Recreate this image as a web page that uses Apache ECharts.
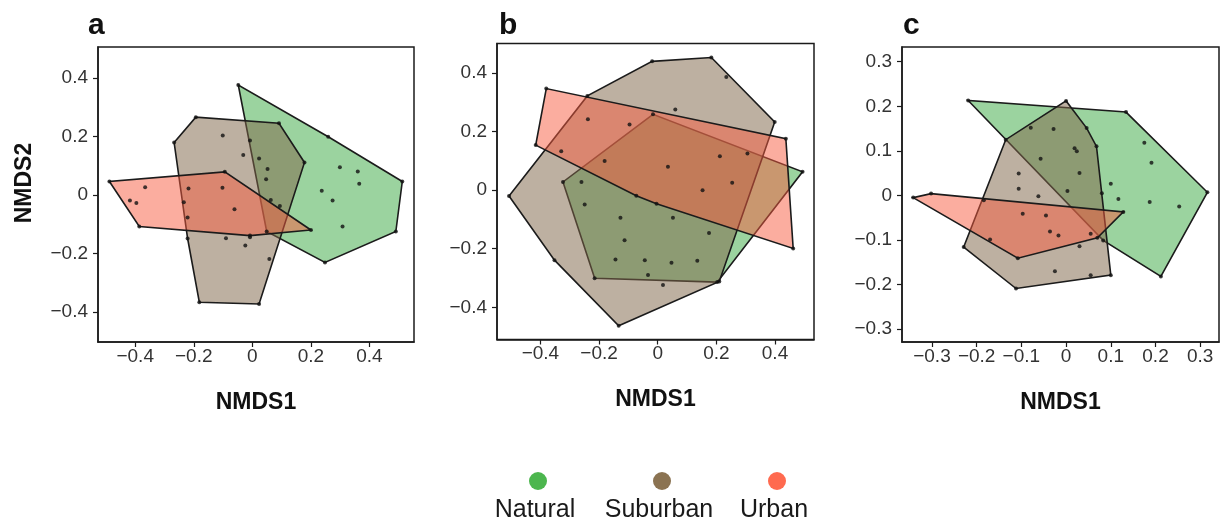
<!DOCTYPE html>
<html>
<head>
<meta charset="utf-8">
<title>NMDS ordination</title>
<style>
  html, body { margin: 0; padding: 0; background: #fff; }
  #chart { width: 1220px; height: 527px; }
</style>
</head>
<body>
<div id="chart"></div>
<script src="https://cdn.jsdelivr.net/npm/echarts@6.0.0/dist/echarts.min.js"></script>
<script>
var groups = ["Natural", "Suburban", "Urban"];
var panelLetters = ["a", "b", "c"];

var ticksAB = [-0.4, -0.2, 0, 0.2, 0.4];
var ticksC = [-0.3, -0.2, -0.1, 0, 0.1, 0.2, 0.3];

var xRangeA = [-0.527, 0.552], yRangeA = [-0.503, 0.506];
var xRangeB = [-0.548, 0.533], yRangeB = [-0.510, 0.501];
var xRangeC = [-0.367, 0.342], yRangeC = [-0.329, 0.333];

// panel a
var aNatural = [[-0.048, 0.376], [0.259, 0.199], [0.512, 0.046], [0.490, -0.125], [0.248, -0.231], [0.049, -0.125],
    [0.299, 0.095], [0.360, 0.080], [0.365, 0.038], [0.237, 0.014], [0.274, -0.019], [0.308, -0.108],
    [-0.008, 0.186], [0.023, 0.125], [0.052, 0.089], [0.047, 0.054], [0.063, -0.017], [0.094, -0.038]];
var aSuburban = [[-0.267, 0.179], [-0.193, 0.266], [0.091, 0.245], [0.178, 0.111], [0.023, -0.373], [-0.181, -0.367],
    [-0.221, -0.149], [-0.101, 0.203], [-0.031, 0.137], [-0.090, -0.148], [-0.024, -0.173], [-0.008, -0.145],
    [0.058, -0.219], [-0.221, -0.077], [-0.234, -0.025]];
var aUrban = [[-0.488, 0.046], [-0.094, 0.079], [0.200, -0.120], [-0.008, -0.139], [-0.386, -0.108],
    [-0.366, 0.026], [-0.418, -0.019], [-0.396, -0.028], [-0.102, 0.025], [-0.061, -0.049], [-0.218, 0.022]];

// panel b
var bNatural = [[-0.323, 0.028], [-0.016, 0.259], [0.494, 0.063], [0.203, -0.314], [-0.215, -0.301],
    [-0.260, 0.028], [-0.249, -0.049], [-0.127, -0.094], [0.052, -0.094], [-0.113, -0.171], [0.175, -0.146],
    [-0.144, -0.237], [-0.044, -0.239], [0.047, -0.248], [0.135, -0.241], [-0.033, -0.290]];
var bSuburban = [[-0.507, -0.020], [-0.240, 0.322], [-0.019, 0.440], [0.183, 0.453], [0.234, 0.387], [0.399, 0.233],
    [0.210, -0.312], [-0.133, -0.463], [-0.352, -0.239], [0.060, 0.276], [0.018, -0.324]];
var bUrban = [[-0.380, 0.347], [0.437, 0.176], [0.462, -0.199], [-0.416, 0.154], [-0.073, -0.019], [-0.004, -0.046],
    [-0.238, 0.242], [-0.096, 0.224], [-0.329, 0.133], [-0.181, 0.100], [0.035, 0.080], [0.212, 0.116],
    [0.306, 0.125], [0.254, 0.025], [0.153, 0.000]];

// panel c
var cNatural = [[-0.219, 0.213], [0.134, 0.187], [0.316, 0.007], [0.212, -0.182], [0.083, -0.101],
    [0.175, 0.118], [0.191, 0.073], [0.187, -0.015], [0.253, -0.025], [0.100, 0.026], [0.117, -0.008], [0.080, 0.005]];
var cSuburban = [[0.000, 0.212], [0.046, 0.151], [0.068, 0.110], [0.100, -0.179], [-0.112, -0.209], [-0.229, -0.116],
    [-0.135, 0.125], [-0.184, -0.011], [-0.079, 0.152], [-0.028, 0.149], [0.019, 0.106], [0.024, 0.099],
    [-0.057, 0.082], [-0.106, 0.049], [0.030, 0.050], [-0.106, 0.015], [-0.062, -0.002], [0.003, 0.010],
    [-0.025, -0.170], [0.055, -0.179], [0.030, -0.114], [0.055, -0.086]];
var cUrban = [[-0.342, -0.005], [-0.302, 0.004], [0.128, -0.037], [0.070, -0.095], [-0.108, -0.141],
    [-0.097, -0.041], [-0.045, -0.045], [-0.036, -0.081], [-0.017, -0.090], [-0.170, -0.099]];

(function(window, echarts) {
    var ns = {};
    var fonts = "'Liberation Sans', Arial, Helvetica, sans-serif";
    var dotColors = ["#4cb64e", "#8b7352", "#ff6a4f"];
    var fillColors = ["rgba(56,168,64,0.5)", "rgba(128,104,74,0.52)", "rgba(248,92,64,0.5)"];
    var edge = "#1b1b1b";

    var panels = [
        { grid: { left: 98, top: 47, width: 316, height: 295 }, x: xRangeA, y: yRangeA, ticks: ticksAB,
          sets: [aNatural, aSuburban, aUrban], letterX: 88 },
        { grid: { left: 497, top: 43.5, width: 317, height: 296 }, x: xRangeB, y: yRangeB, ticks: ticksAB,
          sets: [bNatural, bSuburban, bUrban], letterX: 499 },
        { grid: { left: 902, top: 47, width: 317, height: 295 }, x: xRangeC, y: yRangeC, ticks: ticksC,
          sets: [cNatural, cSuburban, cUrban], letterX: 903 }
    ];

    function hull(pts) {
        var p = pts.slice().sort(function(a, b) { return a[0] - b[0] || a[1] - b[1]; });
        function cross(o, a, b) { return (a[0] - o[0]) * (b[1] - o[1]) - (a[1] - o[1]) * (b[0] - o[0]); }
        var lower = [], upper = [], i;
        for (i = 0; i < p.length; i++) {
            while (lower.length >= 2 && cross(lower[lower.length - 2], lower[lower.length - 1], p[i]) <= 0) lower.pop();
            lower.push(p[i]);
        }
        for (i = p.length - 1; i >= 0; i--) {
            while (upper.length >= 2 && cross(upper[upper.length - 2], upper[upper.length - 1], p[i]) <= 0) upper.pop();
            upper.push(p[i]);
        }
        lower.pop();
        upper.pop();
        return lower.concat(upper);
    }

    function tickText(v) {
        if (Math.abs(v) < 1e-9) return "0";
        return v.toFixed(1).replace("-", "\u2212");
    }

    function axisBase(range, ticks, isX) {
        return {
            type: "value",
            min: range[0],
            max: range[1],
            splitLine: { show: false },
            axisLine: { show: true, onZero: false, lineStyle: { color: edge, width: 1.5 } },
            axisTick: { show: true, inside: false, length: 5, customValues: ticks, lineStyle: { color: edge, width: 1.2 } },
            axisLabel: {
                customValues: ticks,
                formatter: tickText,
                color: "#333",
                fontSize: 19,
                fontFamily: fonts,
                margin: isX ? 5 : 10
            }
        };
    }

    ns.build = function() {
        var grids = [], xAxes = [], yAxes = [], series = [], graphics = [];
        panels.forEach(function(pn, i) {
            grids.push({
                left: pn.grid.left, top: pn.grid.top, width: pn.grid.width, height: pn.grid.height,
                show: true, borderColor: edge, borderWidth: 1.5, backgroundColor: "transparent"
            });
            var xa = axisBase(pn.x, pn.ticks, true);
            xa.gridIndex = i;
            xa.name = "NMDS1";
            xa.nameLocation = "middle";
            xa.nameGap = 49;
            xa.nameTextStyle = { fontSize: 23, fontWeight: "bold", color: "#111", fontFamily: fonts };
            xAxes.push(xa);
            var ya = axisBase(pn.y, pn.ticks, false);
            ya.gridIndex = i;
            if (i === 0) {
                ya.name = "NMDS2";
                ya.nameLocation = "middle";
                ya.nameGap = 62;
                ya.nameTextStyle = { fontSize: 23, fontWeight: "bold", color: "#111", fontFamily: fonts, padding: [0, 0, 0, 23] };
            }
            yAxes.push(ya);

            pn.sets.forEach(function(pts, g) {
                var poly = hull(pts);
                series.push({
                    type: "custom",
                    name: groups[g],
                    xAxisIndex: i,
                    yAxisIndex: i,
                    silent: true,
                    z: 2,
                    data: [[0, 0]],
                    renderItem: function(params, api) {
                        return {
                            type: "polygon",
                            shape: { points: poly.map(function(p) { return api.coord(p); }) },
                            style: { fill: fillColors[g], stroke: edge, lineWidth: 1.6 }
                        };
                    }
                });
            });
            pn.sets.forEach(function(pts, g) {
                series.push({
                    type: "scatter",
                    name: groups[g] + " sites",
                    xAxisIndex: i,
                    yAxisIndex: i,
                    z: 4,
                    symbol: "circle",
                    symbolSize: 4,
                    itemStyle: { color: "#111" },
                    data: pts
                });
            });

            graphics.push({
                type: "text", left: pn.letterX, top: 11,
                style: { text: panelLetters[i], font: "bold 30px " + fonts, fill: "#111" }
            });
        });

        // legend: dot above, name below
        var legendX = [538, 662, 777];
        groups.forEach(function(name, g) {
            graphics.push({
                type: "circle", shape: { cx: legendX[g], cy: 481, r: 9 },
                style: { fill: dotColors[g] }
            });
            graphics.push({
                type: "text", x: legendX[g] - 3, y: 510,
                style: { text: name, font: "25px " + fonts, fill: "#1a1a1a", align: "center", verticalAlign: "middle" }
            });
        });

        return {
            animation: false,
            backgroundColor: "#fff",
            grid: grids,
            xAxis: xAxes,
            yAxis: yAxes,
            series: series,
            graphic: graphics
        };
    };

    ns.init = function() {
        var chart = echarts.init(document.getElementById("chart"), null, { renderer: "canvas" });
        chart.setOption(ns.build());
    };
    ns.init();
})(window, echarts);
</script>
</body>
</html>
